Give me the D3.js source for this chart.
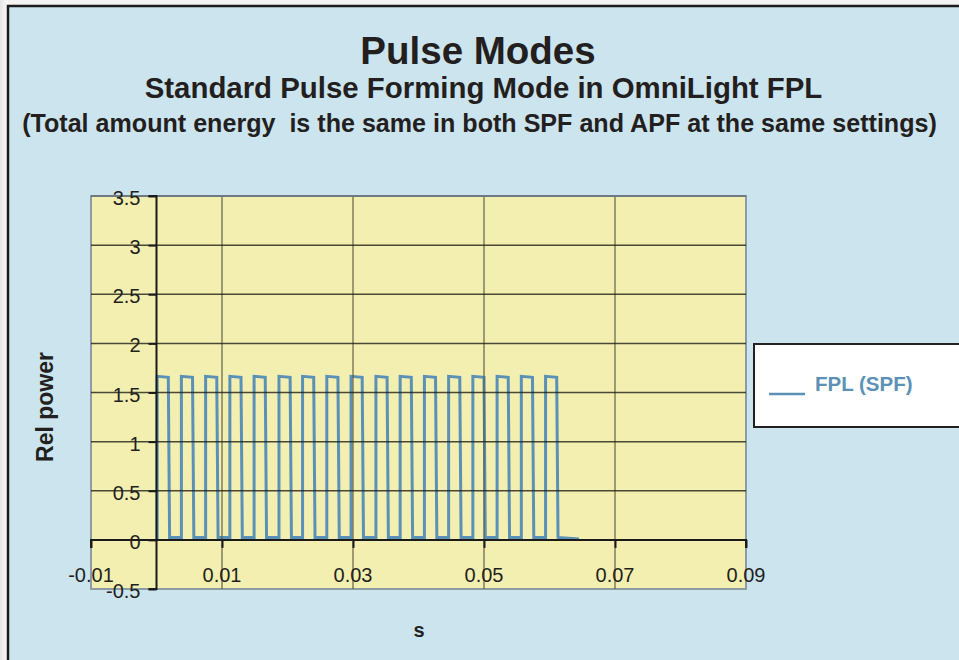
<!DOCTYPE html>
<html><head><meta charset="utf-8">
<script src="https://cdn.jsdelivr.net/npm/d3@7"></script>
<style>
html,body{margin:0;padding:0;background:#f3f3f3;}
svg{display:block;font-family:"Liberation Sans",Arial,Helvetica,sans-serif;}
</style></head>
<body><svg id="c" width="959" height="660"></svg>
<script>
// ---- data ----
const titleText = "Pulse Modes";
const subtitleText = "Standard Pulse Forming Mode in OmniLight FPL";
const noteText = "(Total amount energy  is the same in both SPF and APF at the same settings)";
const xLabel = "s";
const yLabel = "Rel power";
const seriesName = "FPL (SPF)";
const xTicks = [-0.01, 0.01, 0.03, 0.05, 0.07, 0.09];
const xTickLabels = ["-0.01", "0.01", "0.03", "0.05", "0.07", "0.09"];
const yTicks = [-0.5, 0, 0.5, 1, 1.5, 2, 2.5, 3, 3.5];
const yTickLabels = ["-0.5", "0", "0.5", "1", "1.5", "2", "2.5", "3", "3.5"];
const timeS = [
  0.0001, 0.0001, 0.0018, 0.0020,
  0.0038, 0.0038, 0.0055, 0.0057,
  0.0075, 0.0075, 0.0092, 0.0094,
  0.0112, 0.0112, 0.0129, 0.0131,
  0.0149, 0.0149, 0.0166, 0.0168,
  0.0187, 0.0187, 0.0204, 0.0206,
  0.0223, 0.0223, 0.0240, 0.0242,
  0.0260, 0.0260, 0.0277, 0.0279,
  0.0297, 0.0297, 0.0314, 0.0316,
  0.0335, 0.0335, 0.0352, 0.0354,
  0.0372, 0.0372, 0.0389, 0.0391,
  0.0409, 0.0409, 0.0426, 0.0428,
  0.0446, 0.0446, 0.0463, 0.0465,
  0.0483, 0.0483, 0.0500, 0.0502,
  0.0520, 0.0520, 0.0537, 0.0539,
  0.0557, 0.0557, 0.0574, 0.0576,
  0.0594, 0.0594, 0.0611, 0.0613,
  0.0645
];
const relPower = [
  0.00, 1.665, 1.655, 0.025,
  0.025, 1.665, 1.655, 0.025,
  0.025, 1.665, 1.655, 0.025,
  0.025, 1.665, 1.655, 0.025,
  0.025, 1.665, 1.655, 0.025,
  0.025, 1.665, 1.655, 0.025,
  0.025, 1.665, 1.655, 0.025,
  0.025, 1.665, 1.655, 0.025,
  0.025, 1.665, 1.655, 0.025,
  0.025, 1.665, 1.655, 0.025,
  0.025, 1.665, 1.655, 0.025,
  0.025, 1.665, 1.655, 0.025,
  0.025, 1.665, 1.655, 0.025,
  0.025, 1.665, 1.655, 0.025,
  0.025, 1.665, 1.655, 0.025,
  0.025, 1.665, 1.655, 0.025,
  0.025, 1.665, 1.655, 0.025,
  0.01
];

// ---- drawing ----
const svg = d3.select("#c");
const lineColor = "#5b91b7";

const defs = svg.append("defs");
const g1 = defs.append("linearGradient").attr("id","lg").attr("x1",0).attr("x2",1);
g1.append("stop").attr("offset","0%").attr("stop-color","#e6e6e6");
g1.append("stop").attr("offset","100%").attr("stop-color","#fbfbfb");
svg.append("rect").attr("x",0).attr("y",0).attr("width",8).attr("height",660).attr("fill","url(#lg)");

// frame
svg.append("rect").attr("x",8).attr("y",6).attr("width",1000).attr("height",700)
  .attr("fill","#cce4ee").attr("stroke","#1c1c1c").attr("stroke-width",2.5);

// titles
svg.append("text").attr("x",478).attr("y",64).attr("text-anchor","middle")
  .attr("font-size",38.5).attr("font-weight","bold").attr("fill","#231f20").text(titleText);
svg.append("text").attr("x",483.5).attr("y",98).attr("text-anchor","middle")
  .attr("font-size",29.4).attr("font-weight","bold").attr("fill","#231f20").text(subtitleText);
svg.append("text").attr("x",479.5).attr("y",132).attr("text-anchor","middle")
  .attr("font-size",25.1).attr("font-weight","bold").attr("fill","#231f20")
  .style("white-space","pre").attr("xml:space","preserve").text(noteText);

// scales
const x = d3.scaleLinear().domain([-0.01, 0.09]).range([91, 746]);
const y = d3.scaleLinear().domain([-0.5, 3.5]).range([589, 196]);

// plot area
svg.append("rect").attr("x",x(-0.01)).attr("y",y(3.5))
  .attr("width",x(0.09)-x(-0.01)).attr("height",y(-0.5)-y(3.5))
  .attr("fill","#f3efb0").attr("stroke","#8d9ba5").attr("stroke-width",2);

// series
const pts = timeS.map((t,i)=>[t, relPower[i]]);
svg.append("path").datum(pts)
  .attr("fill","none").attr("stroke",lineColor).attr("stroke-width",3)
  .attr("stroke-linejoin","miter")
  .attr("d", d3.line().x(d=>x(d[0])).y(d=>y(d[1])));

// gridlines (drawn over the series, as in the reference)
svg.append("g").selectAll("line").data(xTicks.filter(v=>v>-0.01 && v<0.09)).join("line")
  .attr("x1",d=>x(d)).attr("x2",d=>x(d)).attr("y1",y(3.5)).attr("y2",y(-0.5))
  .attr("stroke","#5a5843").attr("stroke-opacity",0.75).attr("stroke-width",1.5);
svg.append("g").selectAll("line").data(yTicks.filter(v=>v>0 && v<3.5)).join("line")
  .attr("x1",x(-0.01)).attr("x2",x(0.09)).attr("y1",d=>y(d)).attr("y2",d=>y(d))
  .attr("stroke","#1e1e18").attr("stroke-opacity",0.8).attr("stroke-width",1.5);
svg.append("line").attr("x1",x(-0.01)).attr("x2",x(0.09)).attr("y1",y(3.5)).attr("y2",y(3.5))
  .attr("stroke","#6f7a80").attr("stroke-width",2);

// axes
const xAxis = d3.axisBottom(x).tickValues(xTicks).tickSize(8).tickFormat("");
const gx = svg.append("g").attr("transform",`translate(0,${y(0)})`).call(xAxis);
gx.select(".domain").attr("stroke","#1a1a1a").attr("stroke-width",2).attr("d",`M${x(-0.01)},8V0H${x(0.09)}V8`);
gx.selectAll(".tick line").attr("stroke","#1a1a1a").attr("stroke-width",2);

const yAxis = d3.axisLeft(y).tickValues(yTicks).tickSize(8).tickFormat("");
const gy = svg.append("g").attr("transform",`translate(${x(0)},0)`).call(yAxis);
gy.select(".domain").attr("stroke","#1a1a1a").attr("stroke-width",2).attr("d",`M-8,${y(3.5)}H0V${y(-0.5)}H-8`);
gy.selectAll(".tick line").attr("stroke","#1a1a1a").attr("stroke-width",2);

// tick labels
svg.append("g").selectAll("text").data(xTicks).join("text")
  .attr("x",d=>x(d)).attr("y",582).attr("text-anchor","middle")
  .attr("font-size",20).attr("fill","#231f20")
  .text((d,i)=>xTickLabels[i]);
svg.append("g").selectAll("text").data(yTicks).join("text")
  .attr("x",x(0)-16).attr("y",d=>y(d)+9).attr("text-anchor","end")
  .attr("font-size",20).attr("fill","#231f20")
  .text((d,i)=>yTickLabels[i]);

// axis titles
svg.append("text").attr("transform","translate(53,407) rotate(-90)").attr("text-anchor","middle")
  .attr("font-size",23).attr("font-weight","bold").attr("fill","#231f20").text(yLabel);
svg.append("text").attr("x",419).attr("y",637).attr("text-anchor","middle")
  .attr("font-size",20).attr("font-weight","bold").attr("fill","#231f20").text(xLabel);

// legend
svg.append("rect").attr("x",754).attr("y",344).attr("width",260).attr("height",83)
  .attr("fill","#ffffff").attr("stroke","#222").attr("stroke-width",2);
svg.append("line").attr("x1",769).attr("x2",805).attr("y1",394).attr("y2",394)
  .attr("stroke",lineColor).attr("stroke-width",2.5);
svg.append("text").attr("x",815).attr("y",391).attr("font-size",20.5).attr("font-weight","bold")
  .attr("fill","#5b91b7").text(seriesName);
</script></body></html>
